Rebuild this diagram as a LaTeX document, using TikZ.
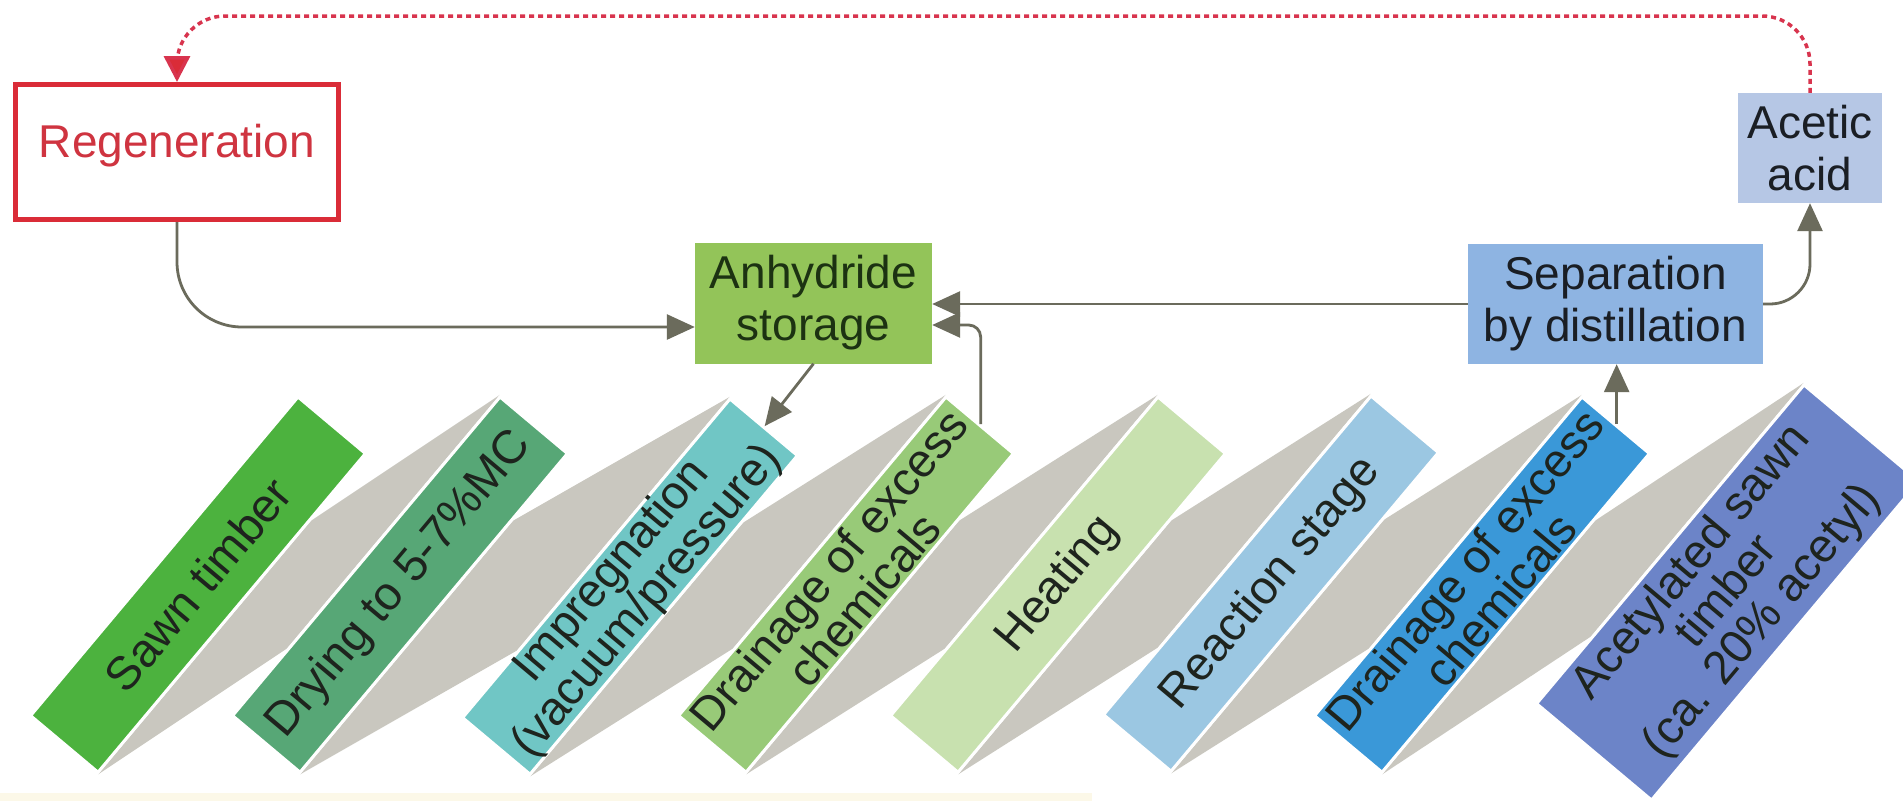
\documentclass[tikz,border=0pt]{standalone}
\usepackage{fontspec}
\setmainfont{Liberation Sans}
\usetikzlibrary{arrows.meta,calc,backgrounds}
\definecolor{cSawn}{HTML}{4CB23E}
\definecolor{cDry}{HTML}{57A776}
\definecolor{cImp}{HTML}{70C6C5}
\definecolor{cDrainA}{HTML}{98CA78}
\definecolor{cHeat}{HTML}{C8E1AF}
\definecolor{cReact}{HTML}{9BC7E2}
\definecolor{cDrainB}{HTML}{3A98D8}
\definecolor{cAcet}{HTML}{6C84C8}
\definecolor{foldgray}{HTML}{C9C7BF}
\definecolor{cAnh}{HTML}{93C459}
\definecolor{cSep}{HTML}{8EB4E2}
\definecolor{cAce}{HTML}{B6C7E5}
\definecolor{regred}{HTML}{DA2C38}
\definecolor{regtxt}{HTML}{CF3440}
\definecolor{dotred}{HTML}{D8344E}
\definecolor{conncol}{HTML}{6B6B5C}
\definecolor{ribtxt}{HTML}{1E241E}
\definecolor{anhtxt}{HTML}{1C3212}
\definecolor{toptxt}{HTML}{1A1E24}
\definecolor{strip}{HTML}{FCF8E8}
\begin{document}
\begin{tikzpicture}[x=1pt,y=-1pt,
  rib/.style={draw=white, line width=3pt, minimum width=416pt, minimum height=88pt, inner sep=0pt, rotate=50},
  ribtext/.style={rotate=50, align=center, text=ribtxt, font=\fontsize{47}{46}\selectfont, inner sep=0pt},
  topbox/.style={inner sep=0pt, align=center, font=\fontsize{46}{52}\selectfont, text=toptxt},
  conn/.style={draw=conncol, line width=2.8pt, -{Triangle[length=28pt,width=25pt]}},
  redarr/.style={draw=dotred, line width=3.5pt, dash pattern=on 5pt off 4pt, -{Triangle[length=26pt,width=26pt,fill=regred]}}]
\useasboundingbox (0,0) rectangle (1903,801);
\begin{scope}[on background layer]
  \fill[white] (0,0) rectangle (1903,801);
  \fill[strip] (0,793) rectangle (1092,801);
\end{scope}

% ribbon boxes
\node[rib, fill=cSawn]   (b1) at (198,584.6) {};
\node[rib, fill=cDry]    (b2) at (400,584.6) {};
\node[rib, fill=cImp]    (b3) at (630,586.6) {};
\node[rib, fill=cDrainA] (b4) at (846,584.6) {};
\node[rib, fill=cHeat]   (b5) at (1058,584.6) {};
\node[rib, fill=cReact]  (b6) at (1271,583.6) {};
\node[rib, fill=cDrainB] (b7) at (1482,584.6) {};
\node[rib, fill=cAcet, minimum height=150pt] (b8) at (1727.75,592.5) {};

\begin{scope}[on background layer]
\foreach \i/\j in {1/2,2/3,3/4,4/5,5/6,6/7,7/8} {
  \fill[foldgray] (b\i.south west) -- ($(b\i.south west)!0.79!(b\i.south east)$)
     -- (b\j.north east) -- ($(b\j.north east)!0.79!(b\j.north west)$) -- cycle;
}
\end{scope}

\node[ribtext] (t1) at (b1.center) {Sawn timber};
\node[ribtext] (t2) at (b2.center) {Drying to 5-7\%MC};
\node[ribtext] (t3) at (b3.center) {Impregnation\\(vacuum/pressure)};
\node[ribtext] (t4) at (b4.center) {Drainage of excess\\chemicals};
\node[ribtext] (t5) at (b5.center) {Heating};
\node[ribtext] (t6) at (b6.center) {Reaction stage};
\node[ribtext] (t7) at (b7.center) {Drainage of excess\\chemicals};
\node[ribtext] (t8) at (b8.center) {Acetylated sawn\\timber\\(ca. 20\% acetyl)};

% top boxes
\node[topbox, fill=cAnh, text=anhtxt, minimum width=237pt, minimum height=121pt] (anh) at (813.5,303) {Anhydride\\storage};
\node[topbox, fill=cSep, minimum width=295pt, minimum height=120pt] (sep) at (1615.5,304) {Separation\\by distillation};
\node[topbox, fill=cAce, minimum width=144pt, minimum height=110pt] (ace) at (1810,148) {Acetic\\acid};
\node[draw=regred, line width=5pt, minimum width=323pt, minimum height=135pt, inner sep=0pt] (reg) at (177,152) {};
\node[text=regtxt, font=\fontsize{46}{52}\selectfont, inner sep=0pt] (regtext) at ([yshift=6pt]reg.center) {Regeneration};

\coordinate (topmid) at (950,16);

% connectors
\draw[conn, rounded corners=65pt] (reg.south) |- ([yshift=-24pt]anh.west);
\draw[conn] (sep.west) -- (sep.west -| anh.east);
\draw[conn, rounded corners=12pt] (b4.east) |- ([yshift=-22pt]anh.east);
\draw[conn] (anh.south) -- (b3.east);
\draw[conn] (b7.east) -- (b7.east |- sep.south);
\draw[conn, rounded corners=40pt] (sep.east) -| (ace.south);
\draw[redarr, rounded corners=48pt] (ace.north) |- (topmid) -| (reg.north);
\end{tikzpicture}
\end{document}
